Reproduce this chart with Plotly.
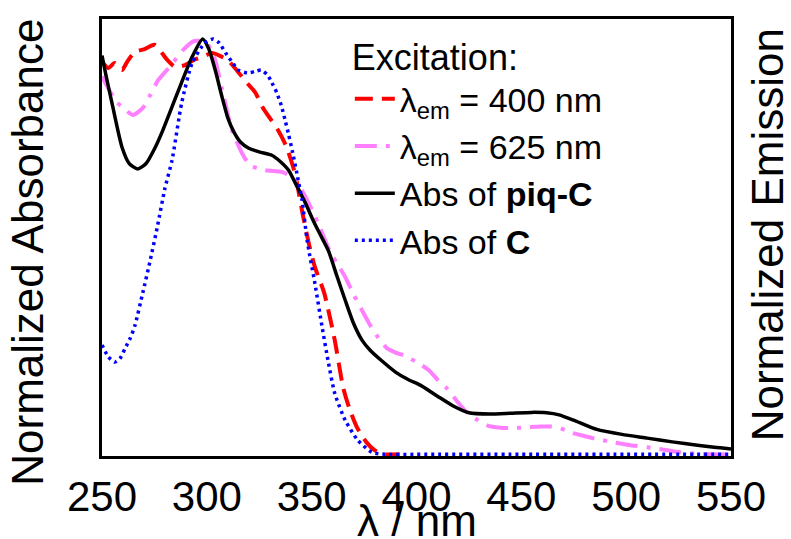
import plotly.graph_objects as go

# ---------------- data ----------------
wl_piqC = [250, 252, 255, 259.5, 263, 267, 271, 275, 279, 286, 293, 298, 301, 304, 307, 310,
           313, 316, 320, 325, 331, 335, 339, 343, 347, 351, 354, 358, 362, 366, 370, 374,
           378, 383, 390, 396, 402, 410, 418, 425, 435, 445, 455, 462, 468, 476, 486, 498,
           510, 522, 534, 542, 550]
abs_piqC = [0.96, 0.91, 0.84, 0.74, 0.70, 0.687, 0.70, 0.735, 0.78, 0.87, 0.957, 1.0, 0.975,
            0.925, 0.865, 0.81, 0.775, 0.752, 0.737, 0.728, 0.72, 0.705, 0.684, 0.645, 0.605,
            0.56, 0.53, 0.49, 0.43, 0.371, 0.315, 0.275, 0.25, 0.227, 0.198, 0.18, 0.166, 0.14,
            0.115, 0.10, 0.097, 0.099, 0.101, 0.10, 0.095, 0.08, 0.06, 0.048, 0.039, 0.03,
            0.022, 0.017, 0.013]

wl_C = [250, 253, 256, 258.5, 261, 263.5, 265.7, 269.5, 273, 276.5, 280, 283.4, 288, 293, 299,
        303, 306, 309, 312, 315, 319.6, 323, 326, 329, 331, 333.4, 335.5, 337.3, 339, 341, 343,
        345.4, 348, 351.6, 355, 357.8, 361, 366, 372, 378.7, 385, 400, 450, 500, 550]
abs_C = [0.263, 0.235, 0.222, 0.23, 0.255, 0.28, 0.31, 0.39, 0.467, 0.55, 0.64, 0.708, 0.846,
         0.942, 0.99, 1.0, 0.99, 0.966, 0.945, 0.925, 0.918, 0.922, 0.925, 0.913, 0.895, 0.87,
         0.84, 0.805, 0.77, 0.725, 0.675, 0.612, 0.51, 0.41, 0.306, 0.226, 0.147, 0.082, 0.034,
         0.005, 0.0, 0.0, 0.0, 0.0, 0.0]

wl_ex400 = [250, 253, 256, 259.5, 262, 265.7, 270, 275, 278.6, 281, 284.8, 289.6, 294, 298,
            302.5, 306, 310, 315, 319, 323, 326.8, 330, 334, 338, 342, 346, 349, 351.6, 356,
            361, 365, 368, 371.6, 376, 380, 385, 392]
ex400 = [0.945, 0.93, 0.942, 0.925, 0.945, 0.969, 0.975, 0.986, 0.966, 0.95, 0.933, 0.937,
         0.95, 0.957, 0.966, 0.96, 0.949, 0.92, 0.895, 0.872, 0.834, 0.81, 0.78, 0.74, 0.677,
         0.571, 0.50, 0.45, 0.388, 0.275, 0.161, 0.11, 0.065, 0.03, 0.01, 0.0, 0.0]

wl_ex625 = [250, 252, 257, 261, 264.8, 269.5, 273, 276.7, 283, 288.6, 294, 299, 302, 304, 307,
            309.5, 312, 316.8, 320.6, 327.7, 335.8, 339, 342, 346, 350, 354, 357.8, 362, 366,
            370, 374, 378, 381.6, 386, 390, 395, 400, 406, 410, 414.5, 419, 424, 429, 433.6,
            440, 446, 452, 459, 464, 467, 471, 474.6, 480, 484, 493.7, 502, 510, 518, 525.6,
            533, 541, 550]
ex625 = [0.91, 0.89, 0.848, 0.83, 0.817, 0.834, 0.865, 0.90, 0.937, 0.973, 0.995, 0.993, 0.975,
         0.949, 0.884, 0.83, 0.78, 0.725, 0.696, 0.684, 0.68, 0.672, 0.66, 0.63, 0.59, 0.545,
         0.499, 0.46, 0.427, 0.385, 0.347, 0.31, 0.282, 0.255, 0.245, 0.236, 0.222, 0.202,
         0.18, 0.159, 0.13, 0.101, 0.083, 0.07, 0.064, 0.063, 0.065, 0.067, 0.067, 0.065,
         0.058, 0.051, 0.044, 0.039, 0.029, 0.022, 0.017, 0.011, 0.005, 0.002, 0.0, 0.0]

x_ticks = [250, 300, 350, 400, 450, 500, 550]

FONT = "Liberation Sans, Arial, Helvetica, sans-serif"

fig = go.Figure()
fig.add_trace(go.Scatter(x=wl_ex400, y=ex400, mode="lines",
                         name="λ<sub>em</sub> = 400 nm",
                         line=dict(color="#ff0000", width=4, dash="18px,9px", shape="spline", smoothing=0.6)))
fig.add_trace(go.Scatter(x=wl_ex625, y=ex625, mode="lines",
                         name="λ<sub>em</sub> = 625 nm",
                         line=dict(color="#ff80ff", width=4, dash="22px,9px,4px,9px", shape="spline", smoothing=0.6)))
fig.add_trace(go.Scatter(x=wl_piqC, y=abs_piqC, mode="lines",
                         name="Abs of <b>piq-C</b>",
                         line=dict(color="#000000", width=3.5, shape="spline", smoothing=0.6)))
fig.add_trace(go.Scatter(x=wl_C, y=abs_C, mode="lines",
                         name="Abs of <b>C</b>",
                         line=dict(color="#0000ff", width=3.5, dash="3px,4px", shape="spline", smoothing=0.6)))

fig.update_layout(
    width=791, height=539,
    margin=dict(l=102, r=60, t=19, b=83),
    paper_bgcolor="white", plot_bgcolor="white",
    font=dict(family=FONT, color="black"),
    showlegend=True,
    legend=dict(x=0.394, y=0.99, xanchor="left", yanchor="top",
                bgcolor="rgba(0,0,0,0)", borderwidth=0,
                font=dict(size=34, family=FONT, color="black"),
                title=dict(text="Excitation:", font=dict(size=36, family=FONT, color="black")),
                itemwidth=40, tracegroupgap=0),
    xaxis=dict(range=[250, 550], tickvals=x_ticks, ticktext=[str(v) for v in x_ticks],
               showgrid=False, zeroline=False, ticks="", showline=True, mirror=True,
               linecolor="black", linewidth=3, ticklabelstandoff=2,
               tickfont=dict(size=42, family=FONT, color="black")),
    yaxis=dict(range=[-0.004, 1.048], showticklabels=False, showgrid=False, zeroline=False,
               ticks="", showline=True, mirror=True, linecolor="black", linewidth=3),
    annotations=[
        dict(text="Normalized Absorbance", xref="paper", yref="paper", x=-0.118, y=0.467,
             xanchor="center", yanchor="middle", textangle=-90, showarrow=False,
             font=dict(size=44, family=FONT, color="black")),
        dict(text="Normalized Emission", xref="paper", yref="paper", x=1.058, y=0.506,
             xanchor="center", yanchor="middle", textangle=-90, showarrow=False,
             font=dict(size=44, family=FONT, color="black")),
        dict(text="λ / nm", xref="paper", yref="paper", x=0.5, y=-0.148,
             xanchor="center", yanchor="middle", showarrow=False,
             font=dict(size=44, family=FONT, color="black")),
    ],
)

fig.write_html("out.html")
